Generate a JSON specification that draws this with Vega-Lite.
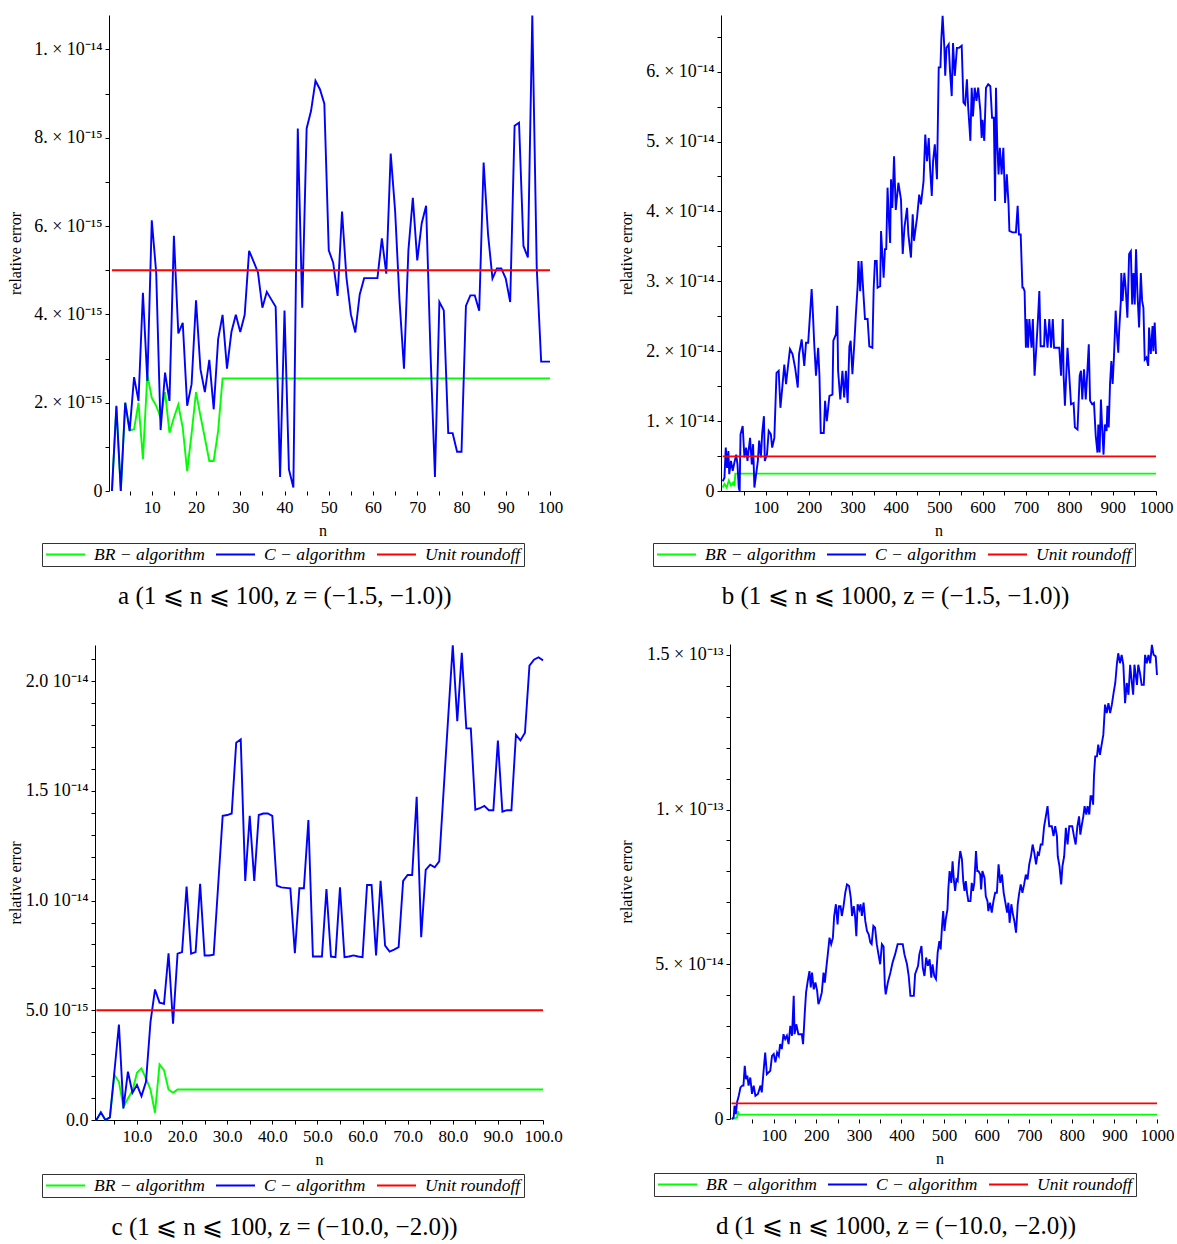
{
"$schema": "https://vega.github.io/schema/vega-lite/v6.json",
"background": "white",
"padding": {"left": 7, "top": 11, "right": 0, "bottom": 0},
"datasets": {
"a_br": [{"n":1,"v":0},{"n":2,"v":1.9e-15},{"n":3,"v":0},{"n":4,"v":2.0e-15},{"n":5,"v":1.37e-15},{"n":6,"v":1.40e-15},{"n":7,"v":2.0e-15},{"n":8,"v":0.72e-15},{"n":9,"v":2.64e-15},{"n":10,"v":2.11e-15},{"n":11,"v":1.93e-15},{"n":12,"v":1.66e-15},{"n":13,"v":2.24e-15},{"n":14,"v":1.32e-15},{"n":15,"v":1.66e-15},{"n":16,"v":1.96e-15},{"n":17,"v":1.43e-15},{"n":18,"v":0.45e-15},{"n":19,"v":1.3e-15},{"n":20,"v":2.24e-15},{"n":21,"v":1.7e-15},{"n":22,"v":1.2e-15},{"n":23,"v":0.68e-15},{"n":24,"v":0.68e-15},{"n":25,"v":1.36e-15},{"n":26,"v":2.55e-15},{"n":100,"v":2.55e-15}],
"a_c": [{"n":1,"v":0},{"n":2,"v":1.93e-15},{"n":3,"v":0},{"n":4,"v":2.0e-15},{"n":5,"v":1.36e-15},{"n":6,"v":2.58e-15},{"n":7,"v":2.04e-15},{"n":8,"v":4.49e-15},{"n":9,"v":2.49e-15},{"n":10,"v":6.13e-15},{"n":11,"v":4.95e-15},{"n":12,"v":1.38e-15},{"n":13,"v":2.68e-15},{"n":14,"v":2.04e-15},{"n":15,"v":5.78e-15},{"n":16,"v":3.57e-15},{"n":17,"v":3.81e-15},{"n":18,"v":1.93e-15},{"n":19,"v":2.42e-15},{"n":20,"v":4.32e-15},{"n":21,"v":2.76e-15},{"n":22,"v":2.24e-15},{"n":23,"v":2.97e-15},{"n":24,"v":1.85e-15},{"n":25,"v":3.44e-15},{"n":26,"v":3.99e-15},{"n":27,"v":2.77e-15},{"n":28,"v":3.6e-15},{"n":29,"v":3.99e-15},{"n":30,"v":3.6e-15},{"n":31,"v":3.99e-15},{"n":32,"v":5.44e-15},{"n":33,"v":5.2e-15},{"n":34,"v":4.95e-15},{"n":35,"v":4.15e-15},{"n":36,"v":4.51e-15},{"n":37,"v":4.34e-15},{"n":38,"v":4.17e-15},{"n":39,"v":0.32e-15},{"n":40,"v":4.09e-15},{"n":41,"v":0.49e-15},{"n":42,"v":0.08e-15},{"n":43,"v":8.21e-15},{"n":44,"v":4.15e-15},{"n":45,"v":8.21e-15},{"n":46,"v":8.61e-15},{"n":47,"v":9.29e-15},{"n":48,"v":9.1e-15},{"n":49,"v":8.77e-15},{"n":50,"v":5.45e-15},{"n":51,"v":5.17e-15},{"n":52,"v":4.42e-15},{"n":53,"v":6.33e-15},{"n":54,"v":4.83e-15},{"n":55,"v":4.0e-15},{"n":56,"v":3.59e-15},{"n":57,"v":4.45e-15},{"n":58,"v":4.82e-15},{"n":59,"v":4.82e-15},{"n":60,"v":4.82e-15},{"n":61,"v":4.82e-15},{"n":62,"v":5.72e-15},{"n":63,"v":4.92e-15},{"n":64,"v":7.64e-15},{"n":65,"v":6.34e-15},{"n":66,"v":4.3e-15},{"n":67,"v":2.77e-15},{"n":68,"v":5.45e-15},{"n":69,"v":6.64e-15},{"n":70,"v":5.22e-15},{"n":71,"v":6.06e-15},{"n":72,"v":6.46e-15},{"n":73,"v":3.1e-15},{"n":74,"v":0.32e-15},{"n":75,"v":4.28e-15},{"n":76,"v":4.09e-15},{"n":77,"v":1.31e-15},{"n":78,"v":1.31e-15},{"n":79,"v":0.89e-15},{"n":80,"v":0.89e-15},{"n":81,"v":4.19e-15},{"n":82,"v":4.43e-15},{"n":83,"v":4.43e-15},{"n":84,"v":4.08e-15},{"n":85,"v":7.44e-15},{"n":86,"v":5.81e-15},{"n":87,"v":4.81e-15},{"n":88,"v":5.04e-15},{"n":89,"v":5.04e-15},{"n":90,"v":4.81e-15},{"n":91,"v":4.28e-15},{"n":92,"v":8.27e-15},{"n":93,"v":8.34e-15},{"n":94,"v":5.55e-15},{"n":95,"v":5.29e-15},{"n":96,"v":10.77e-15},{"n":97,"v":5.06e-15},{"n":98,"v":2.93e-15},{"n":99,"v":2.93e-15},{"n":100,"v":2.93e-15}],
"a_u": [{"n":1,"v":5.0e-15},{"n":100,"v":5.0e-15}],
"b_br": [{"n":1,"v":0.5e-15},{"n":5,"v":1.0e-15},{"n":10,"v":0.5e-15},{"n":15,"v":1.5e-15},{"n":20,"v":0.8e-15},{"n":25,"v":1.2e-15},{"n":28,"v":0.7e-15},{"n":30,"v":2.48e-15},{"n":1000,"v":2.48e-15}],
"b_c": [{"n":1,"v":0.14e-14},{"n":5,"v":0.19e-14},{"n":8,"v":0.62e-14},{"n":11,"v":0.33e-14},{"n":14,"v":0.57e-14},{"n":16,"v":0.24e-14},{"n":20,"v":0.43e-14},{"n":24,"v":0.29e-14},{"n":28,"v":0.41e-14},{"n":32,"v":0.52e-14},{"n":35,"v":0.38e-14},{"n":38,"v":0.05e-14},{"n":40,"v":0},{"n":42,"v":0.81e-14},{"n":47,"v":0.93e-14},{"n":51,"v":0.48e-14},{"n":55,"v":0.62e-14},{"n":58,"v":0.43e-14},{"n":64,"v":0.76e-14},{"n":68,"v":0.38e-14},{"n":71,"v":0.67e-14},{"n":74,"v":0.05e-14},{"n":78,"v":0.24e-14},{"n":82,"v":0.43e-14},{"n":85,"v":0.72e-14},{"n":89,"v":0.48e-14},{"n":92,"v":0.83e-14},{"n":96,"v":1.07e-14},{"n":98,"v":0.43e-14},{"n":103,"v":0.52e-14},{"n":107,"v":0.86e-14},{"n":112,"v":0.81e-14},{"n":115,"v":0.62e-14},{"n":120,"v":0.76e-14},{"n":125,"v":1.69e-14},{"n":130,"v":1.72e-14},{"n":134,"v":1.19e-14},{"n":139,"v":1.53e-14},{"n":143,"v":1.81e-14},{"n":147,"v":1.53e-14},{"n":151,"v":1.76e-14},{"n":156,"v":2.03e-14},{"n":162,"v":1.96e-14},{"n":168,"v":1.76e-14},{"n":174,"v":1.48e-14},{"n":177,"v":1.96e-14},{"n":183,"v":2.17e-14},{"n":189,"v":1.79e-14},{"n":193,"v":2.12e-14},{"n":198,"v":2.12e-14},{"n":202,"v":2.5e-14},{"n":206,"v":2.89e-14},{"n":209,"v":2.53e-14},{"n":212,"v":2.1e-14},{"n":216,"v":1.65e-14},{"n":221,"v":2.05e-14},{"n":224,"v":1.65e-14},{"n":227,"v":0.83e-14},{"n":234,"v":0.83e-14},{"n":237,"v":1.29e-14},{"n":241,"v":1.0e-14},{"n":247,"v":1.36e-14},{"n":254,"v":1.38e-14},{"n":256,"v":2.15e-14},{"n":262,"v":2.24e-14},{"n":265,"v":2.65e-14},{"n":267,"v":1.72e-14},{"n":272,"v":1.31e-14},{"n":277,"v":1.72e-14},{"n":281,"v":1.34e-14},{"n":285,"v":1.72e-14},{"n":289,"v":1.26e-14},{"n":293,"v":2.07e-14},{"n":296,"v":2.15e-14},{"n":300,"v":1.67e-14},{"n":304,"v":2.07e-14},{"n":308,"v":2.53e-14},{"n":312,"v":2.93e-14},{"n":314,"v":3.29e-14},{"n":318,"v":2.86e-14},{"n":321,"v":3.29e-14},{"n":325,"v":2.86e-14},{"n":329,"v":2.46e-14},{"n":335,"v":2.46e-14},{"n":339,"v":2.07e-14},{"n":346,"v":2.05e-14},{"n":349,"v":2.89e-14},{"n":352,"v":3.29e-14},{"n":356,"v":3.29e-14},{"n":358,"v":2.91e-14},{"n":364,"v":2.93e-14},{"n":366,"v":3.72e-14},{"n":369,"v":3.39e-14},{"n":372,"v":3.05e-14},{"n":375,"v":3.46e-14},{"n":378,"v":3.46e-14},{"n":381,"v":4.34e-14},{"n":385,"v":3.77e-14},{"n":387,"v":3.55e-14},{"n":389,"v":4.46e-14},{"n":392,"v":4.05e-14},{"n":396,"v":4.79e-14},{"n":400,"v":4.02e-14},{"n":406,"v":4.41e-14},{"n":412,"v":4.17e-14},{"n":416,"v":3.39e-14},{"n":420,"v":3.77e-14},{"n":426,"v":4.05e-14},{"n":429,"v":3.67e-14},{"n":435,"v":3.34e-14},{"n":439,"v":3.96e-14},{"n":442,"v":3.58e-14},{"n":449,"v":3.91e-14},{"n":454,"v":4.24e-14},{"n":458,"v":4.1e-14},{"n":464,"v":4.43e-14},{"n":468,"v":5.1e-14},{"n":472,"v":4.72e-14},{"n":476,"v":5.05e-14},{"n":479,"v":4.63e-14},{"n":483,"v":4.22e-14},{"n":486,"v":4.72e-14},{"n":490,"v":4.96e-14},{"n":495,"v":4.46e-14},{"n":499,"v":6.06e-14},{"n":503,"v":6.06e-14},{"n":505,"v":6.46e-14},{"n":508,"v":6.8e-14},{"n":512,"v":6.34e-14},{"n":514,"v":5.94e-14},{"n":517,"v":6.34e-14},{"n":522,"v":6.39e-14},{"n":525,"v":6.01e-14},{"n":529,"v":5.65e-14},{"n":532,"v":6.41e-14},{"n":536,"v":5.94e-14},{"n":541,"v":6.34e-14},{"n":546,"v":6.34e-14},{"n":552,"v":6.37e-14},{"n":556,"v":5.56e-14},{"n":560,"v":5.53e-14},{"n":564,"v":5.89e-14},{"n":567,"v":5.48e-14},{"n":570,"v":5.2e-14},{"n":572,"v":5.01e-14},{"n":575,"v":5.77e-14},{"n":578,"v":5.36e-14},{"n":582,"v":5.77e-14},{"n":586,"v":5.58e-14},{"n":590,"v":5.77e-14},{"n":595,"v":5.44e-14},{"n":598,"v":5.05e-14},{"n":600,"v":5.31e-14},{"n":604,"v":5.01e-14},{"n":608,"v":5.77e-14},{"n":613,"v":5.82e-14},{"n":618,"v":5.79e-14},{"n":622,"v":5.34e-14},{"n":626,"v":5.34e-14},{"n":629,"v":4.15e-14},{"n":631,"v":5.77e-14},{"n":634,"v":4.96e-14},{"n":637,"v":4.53e-14},{"n":640,"v":4.91e-14},{"n":644,"v":4.53e-14},{"n":648,"v":4.91e-14},{"n":652,"v":4.12e-14},{"n":656,"v":4.53e-14},{"n":660,"v":4.1e-14},{"n":662,"v":3.72e-14},{"n":669,"v":3.7e-14},{"n":677,"v":3.7e-14},{"n":681,"v":4.08e-14},{"n":684,"v":3.67e-14},{"n":688,"v":3.67e-14},{"n":692,"v":2.91e-14},{"n":694,"v":2.91e-14},{"n":697,"v":2.86e-14},{"n":700,"v":2.05e-14},{"n":702,"v":2.46e-14},{"n":705,"v":2.05e-14},{"n":708,"v":2.46e-14},{"n":713,"v":2.05e-14},{"n":716,"v":2.46e-14},{"n":720,"v":1.65e-14},{"n":724,"v":2.05e-14},{"n":728,"v":2.48e-14},{"n":731,"v":2.86e-14},{"n":734,"v":2.07e-14},{"n":742,"v":2.07e-14},{"n":744,"v":2.46e-14},{"n":750,"v":2.05e-14},{"n":754,"v":2.46e-14},{"n":758,"v":2.05e-14},{"n":762,"v":2.46e-14},{"n":765,"v":2.05e-14},{"n":777,"v":2.05e-14},{"n":781,"v":1.65e-14},{"n":785,"v":2.46e-14},{"n":787,"v":1.65e-14},{"n":790,"v":1.22e-14},{"n":793,"v":1.65e-14},{"n":796,"v":2.05e-14},{"n":800,"v":1.65e-14},{"n":804,"v":1.24e-14},{"n":810,"v":1.26e-14},{"n":813,"v":0.91e-14},{"n":819,"v":0.88e-14},{"n":824,"v":1.65e-14},{"n":827,"v":1.72e-14},{"n":830,"v":1.31e-14},{"n":834,"v":1.74e-14},{"n":838,"v":1.31e-14},{"n":842,"v":1.74e-14},{"n":845,"v":2.1e-14},{"n":848,"v":1.29e-14},{"n":853,"v":1.24e-14},{"n":857,"v":1.26e-14},{"n":861,"v":0.79e-14},{"n":865,"v":0.55e-14},{"n":867,"v":0.95e-14},{"n":870,"v":0.55e-14},{"n":873,"v":1.31e-14},{"n":876,"v":0.88e-14},{"n":879,"v":0.52e-14},{"n":882,"v":0.95e-14},{"n":886,"v":0.86e-14},{"n":888,"v":1.22e-14},{"n":891,"v":0.91e-14},{"n":894,"v":1.53e-14},{"n":897,"v":1.86e-14},{"n":900,"v":1.53e-14},{"n":903,"v":1.91e-14},{"n":907,"v":2.58e-14},{"n":910,"v":2.24e-14},{"n":913,"v":1.98e-14},{"n":915,"v":2.29e-14},{"n":919,"v":2.72e-14},{"n":920,"v":3.12e-14},{"n":923,"v":2.72e-14},{"n":927,"v":3.12e-14},{"n":930,"v":2.91e-14},{"n":934,"v":2.48e-14},{"n":938,"v":3.39e-14},{"n":942,"v":3.43e-14},{"n":945,"v":2.67e-14},{"n":948,"v":3.12e-14},{"n":951,"v":2.67e-14},{"n":954,"v":3.46e-14},{"n":957,"v":2.86e-14},{"n":961,"v":2.34e-14},{"n":965,"v":3.12e-14},{"n":968,"v":2.72e-14},{"n":971,"v":2.62e-14},{"n":974,"v":1.88e-14},{"n":978,"v":1.91e-14},{"n":982,"v":1.79e-14},{"n":984,"v":2.34e-14},{"n":988,"v":1.96e-14},{"n":992,"v":2.36e-14},{"n":994,"v":2.0e-14},{"n":997,"v":2.41e-14},{"n":1000,"v":1.96e-14}],
"b_u": [{"n":1,"v":4.96e-15},{"n":1000,"v":4.96e-15}],
"c_br": [{"n":1,"v":0},{"n":2,"v":0.35e-15},{"n":3,"v":0},{"n":4,"v":0.12e-15},{"n":5,"v":2.05e-15},{"n":6,"v":1.74e-15},{"n":7,"v":0.6e-15},{"n":8,"v":0.98e-15},{"n":9,"v":1.33e-15},{"n":10,"v":2.15e-15},{"n":11,"v":2.35e-15},{"n":12,"v":1.89e-15},{"n":13,"v":1.39e-15},{"n":14,"v":0.33e-15},{"n":15,"v":2.53e-15},{"n":16,"v":2.27e-15},{"n":17,"v":1.39e-15},{"n":18,"v":1.24e-15},{"n":19,"v":1.39e-15},{"n":100,"v":1.39e-15}],
"c_c": [{"n":1,"v":0},{"n":2,"v":0.35e-15},{"n":3,"v":0},{"n":4,"v":0.12e-15},{"n":5,"v":2.2e-15},{"n":6,"v":4.35e-15},{"n":7,"v":0.53e-15},{"n":8,"v":2.2e-15},{"n":9,"v":1.24e-15},{"n":10,"v":1.6e-15},{"n":11,"v":1.09e-15},{"n":12,"v":1.74e-15},{"n":13,"v":4.47e-15},{"n":14,"v":5.95e-15},{"n":15,"v":5.35e-15},{"n":16,"v":5.3e-15},{"n":17,"v":7.6e-15},{"n":18,"v":4.39e-15},{"n":19,"v":7.58e-15},{"n":20,"v":7.65e-15},{"n":21,"v":10.64e-15},{"n":22,"v":7.58e-15},{"n":23,"v":7.65e-15},{"n":24,"v":10.76e-15},{"n":25,"v":7.5e-15},{"n":26,"v":7.5e-15},{"n":27,"v":7.53e-15},{"n":28,"v":10.7e-15},{"n":29,"v":13.86e-15},{"n":30,"v":13.9e-15},{"n":31,"v":13.97e-15},{"n":32,"v":17.2e-15},{"n":33,"v":17.35e-15},{"n":34,"v":10.9e-15},{"n":35,"v":13.86e-15},{"n":36,"v":10.9e-15},{"n":37,"v":13.9e-15},{"n":38,"v":13.97e-15},{"n":39,"v":13.97e-15},{"n":40,"v":13.86e-15},{"n":41,"v":10.68e-15},{"n":42,"v":10.6e-15},{"n":43,"v":10.58e-15},{"n":44,"v":10.56e-15},{"n":45,"v":7.6e-15},{"n":46,"v":10.56e-15},{"n":47,"v":10.56e-15},{"n":48,"v":13.67e-15},{"n":49,"v":7.45e-15},{"n":50,"v":7.45e-15},{"n":51,"v":7.45e-15},{"n":52,"v":10.53e-15},{"n":53,"v":7.45e-15},{"n":54,"v":7.42e-15},{"n":55,"v":10.6e-15},{"n":56,"v":7.42e-15},{"n":57,"v":7.45e-15},{"n":58,"v":7.5e-15},{"n":59,"v":7.45e-15},{"n":60,"v":7.42e-15},{"n":61,"v":10.71e-15},{"n":62,"v":10.71e-15},{"n":63,"v":7.5e-15},{"n":64,"v":10.9e-15},{"n":65,"v":7.95e-15},{"n":66,"v":7.68e-15},{"n":67,"v":7.77e-15},{"n":68,"v":7.88e-15},{"n":69,"v":10.9e-15},{"n":70,"v":11.17e-15},{"n":71,"v":11.17e-15},{"n":72,"v":14.73e-15},{"n":73,"v":8.33e-15},{"n":74,"v":11.4e-15},{"n":75,"v":11.64e-15},{"n":76,"v":11.52e-15},{"n":77,"v":11.79e-15},{"n":78,"v":15.1e-15},{"n":79,"v":18.4e-15},{"n":80,"v":21.64e-15},{"n":81,"v":18.18e-15},{"n":82,"v":21.29e-15},{"n":83,"v":17.85e-15},{"n":84,"v":17.85e-15},{"n":85,"v":14.14e-15},{"n":86,"v":14.21e-15},{"n":87,"v":14.32e-15},{"n":88,"v":14.12e-15},{"n":89,"v":14.12e-15},{"n":90,"v":17.3e-15},{"n":91,"v":14.05e-15},{"n":92,"v":14.12e-15},{"n":93,"v":14.12e-15},{"n":94,"v":17.55e-15},{"n":95,"v":17.3e-15},{"n":96,"v":17.65e-15},{"n":97,"v":20.71e-15},{"n":98,"v":20.98e-15},{"n":99,"v":21.09e-15},{"n":100,"v":20.95e-15}],
"c_u": [{"n":1,"v":5.0e-15},{"n":100,"v":5.0e-15}],
"d_br": [{"n":1,"v":0},{"n":10,"v":0.2e-15},{"n":14,"v":0.5e-15},{"n":16,"v":2.5e-15},{"n":18,"v":1.4e-15},{"n":1000,"v":1.4e-15}],
"d_c": [{"n":2,"v":0},{"n":6,"v":0.05e-14},{"n":8,"v":0.43e-14},{"n":11,"v":0.16e-14},{"n":14,"v":0.54e-14},{"n":18,"v":0.75e-14},{"n":22,"v":1.02e-14},{"n":26,"v":1.08e-14},{"n":29,"v":1.08e-14},{"n":32,"v":1.72e-14},{"n":35,"v":1.29e-14},{"n":38,"v":1.4e-14},{"n":41,"v":1.08e-14},{"n":45,"v":1.34e-14},{"n":49,"v":0.81e-14},{"n":53,"v":1.08e-14},{"n":57,"v":0.75e-14},{"n":63,"v":0.81e-14},{"n":69,"v":1.08e-14},{"n":72,"v":0.86e-14},{"n":76,"v":1.51e-14},{"n":80,"v":2.15e-14},{"n":84,"v":1.45e-14},{"n":92,"v":1.56e-14},{"n":96,"v":2.04e-14},{"n":100,"v":2.1e-14},{"n":104,"v":1.83e-14},{"n":108,"v":2.15e-14},{"n":112,"v":2.04e-14},{"n":115,"v":2.42e-14},{"n":119,"v":2.26e-14},{"n":123,"v":2.74e-14},{"n":127,"v":2.58e-14},{"n":131,"v":2.69e-14},{"n":135,"v":2.42e-14},{"n":139,"v":3.01e-14},{"n":143,"v":2.69e-14},{"n":147,"v":3.98e-14},{"n":149,"v":2.74e-14},{"n":153,"v":3.06e-14},{"n":158,"v":2.74e-14},{"n":166,"v":2.74e-14},{"n":169,"v":2.42e-14},{"n":173,"v":3.44e-14},{"n":176,"v":4.09e-14},{"n":180,"v":4.46e-14},{"n":184,"v":4.78e-14},{"n":187,"v":4.25e-14},{"n":190,"v":4.73e-14},{"n":194,"v":4.19e-14},{"n":198,"v":4.41e-14},{"n":202,"v":4.14e-14},{"n":205,"v":3.71e-14},{"n":209,"v":3.87e-14},{"n":213,"v":4.09e-14},{"n":217,"v":4.73e-14},{"n":220,"v":4.41e-14},{"n":224,"v":4.95e-14},{"n":227,"v":5.32e-14},{"n":231,"v":5.86e-14},{"n":235,"v":5.65e-14},{"n":239,"v":5.86e-14},{"n":242,"v":6.56e-14},{"n":246,"v":6.94e-14},{"n":250,"v":6.29e-14},{"n":253,"v":6.88e-14},{"n":257,"v":6.88e-14},{"n":260,"v":6.56e-14},{"n":264,"v":6.88e-14},{"n":268,"v":7.31e-14},{"n":272,"v":7.58e-14},{"n":277,"v":7.53e-14},{"n":281,"v":7.15e-14},{"n":284,"v":6.56e-14},{"n":288,"v":6.88e-14},{"n":291,"v":6.56e-14},{"n":294,"v":5.91e-14},{"n":297,"v":6.94e-14},{"n":301,"v":6.77e-14},{"n":304,"v":6.94e-14},{"n":307,"v":6.56e-14},{"n":311,"v":6.99e-14},{"n":315,"v":6.4e-14},{"n":319,"v":6.08e-14},{"n":323,"v":5.97e-14},{"n":327,"v":5.7e-14},{"n":330,"v":5.65e-14},{"n":334,"v":6.24e-14},{"n":338,"v":6.18e-14},{"n":342,"v":5.65e-14},{"n":346,"v":5.32e-14},{"n":350,"v":5.0e-14},{"n":354,"v":5.65e-14},{"n":358,"v":5.57e-14},{"n":361,"v":4.3e-14},{"n":363,"v":4.03e-14},{"n":368,"v":4.41e-14},{"n":374,"v":4.73e-14},{"n":379,"v":5.05e-14},{"n":385,"v":5.32e-14},{"n":391,"v":5.65e-14},{"n":397,"v":5.65e-14},{"n":403,"v":5.65e-14},{"n":407,"v":5.32e-14},{"n":413,"v":5.0e-14},{"n":417,"v":4.62e-14},{"n":421,"v":3.98e-14},{"n":429,"v":3.98e-14},{"n":432,"v":4.68e-14},{"n":439,"v":4.95e-14},{"n":442,"v":5.32e-14},{"n":447,"v":5.59e-14},{"n":450,"v":4.89e-14},{"n":454,"v":4.62e-14},{"n":458,"v":5.22e-14},{"n":462,"v":4.95e-14},{"n":466,"v":5.16e-14},{"n":470,"v":4.57e-14},{"n":473,"v":5.0e-14},{"n":477,"v":4.62e-14},{"n":481,"v":4.52e-14},{"n":485,"v":5.38e-14},{"n":489,"v":5.75e-14},{"n":492,"v":5.48e-14},{"n":495,"v":6.18e-14},{"n":498,"v":6.72e-14},{"n":501,"v":6.08e-14},{"n":504,"v":6.45e-14},{"n":508,"v":6.77e-14},{"n":510,"v":7.42e-14},{"n":513,"v":8.01e-14},{"n":517,"v":7.63e-14},{"n":520,"v":8.33e-14},{"n":523,"v":7.74e-14},{"n":526,"v":7.37e-14},{"n":529,"v":7.74e-14},{"n":532,"v":7.69e-14},{"n":535,"v":8.28e-14},{"n":538,"v":8.66e-14},{"n":542,"v":8.39e-14},{"n":545,"v":7.69e-14},{"n":548,"v":7.37e-14},{"n":551,"v":7.69e-14},{"n":554,"v":7.31e-14},{"n":557,"v":7.04e-14},{"n":562,"v":7.04e-14},{"n":565,"v":7.63e-14},{"n":568,"v":7.37e-14},{"n":571,"v":7.63e-14},{"n":575,"v":8.66e-14},{"n":578,"v":8.01e-14},{"n":581,"v":8.01e-14},{"n":585,"v":7.9e-14},{"n":587,"v":7.42e-14},{"n":590,"v":8.01e-14},{"n":595,"v":7.8e-14},{"n":598,"v":7.2e-14},{"n":602,"v":7.04e-14},{"n":604,"v":6.72e-14},{"n":608,"v":6.99e-14},{"n":612,"v":6.67e-14},{"n":616,"v":7.04e-14},{"n":620,"v":7.31e-14},{"n":624,"v":7.31e-14},{"n":628,"v":8.23e-14},{"n":632,"v":7.63e-14},{"n":636,"v":7.9e-14},{"n":640,"v":7.31e-14},{"n":644,"v":6.99e-14},{"n":648,"v":6.67e-14},{"n":651,"v":6.99e-14},{"n":654,"v":6.34e-14},{"n":658,"v":6.94e-14},{"n":661,"v":6.67e-14},{"n":665,"v":6.4e-14},{"n":669,"v":6.02e-14},{"n":673,"v":6.94e-14},{"n":676,"v":7.26e-14},{"n":680,"v":7.58e-14},{"n":684,"v":7.31e-14},{"n":688,"v":7.58e-14},{"n":692,"v":7.9e-14},{"n":696,"v":7.74e-14},{"n":700,"v":8.23e-14},{"n":704,"v":8.49e-14},{"n":708,"v":8.87e-14},{"n":712,"v":8.6e-14},{"n":716,"v":8.23e-14},{"n":720,"v":8.6e-14},{"n":723,"v":8.55e-14},{"n":727,"v":8.87e-14},{"n":731,"v":8.87e-14},{"n":735,"v":9.46e-14},{"n":739,"v":9.78e-14},{"n":743,"v":10.11e-14},{"n":747,"v":9.46e-14},{"n":753,"v":9.46e-14},{"n":757,"v":9.14e-14},{"n":761,"v":9.46e-14},{"n":765,"v":9.14e-14},{"n":767,"v":8.49e-14},{"n":771,"v":8.17e-14},{"n":775,"v":7.58e-14},{"n":778,"v":8.17e-14},{"n":782,"v":8.49e-14},{"n":786,"v":9.41e-14},{"n":790,"v":8.87e-14},{"n":794,"v":9.46e-14},{"n":801,"v":9.46e-14},{"n":805,"v":9.14e-14},{"n":809,"v":8.87e-14},{"n":813,"v":9.46e-14},{"n":817,"v":9.78e-14},{"n":820,"v":9.19e-14},{"n":823,"v":9.46e-14},{"n":827,"v":9.78e-14},{"n":830,"v":10.11e-14},{"n":834,"v":9.84e-14},{"n":837,"v":10.11e-14},{"n":841,"v":9.84e-14},{"n":844,"v":10.43e-14},{"n":847,"v":10.43e-14},{"n":850,"v":10.16e-14},{"n":852,"v":11.08e-14},{"n":855,"v":11.72e-14},{"n":859,"v":11.72e-14},{"n":862,"v":12.1e-14},{"n":866,"v":11.77e-14},{"n":870,"v":12.1e-14},{"n":874,"v":12.42e-14},{"n":878,"v":13.39e-14},{"n":882,"v":13.12e-14},{"n":886,"v":13.44e-14},{"n":890,"v":13.12e-14},{"n":894,"v":13.39e-14},{"n":898,"v":13.76e-14},{"n":902,"v":14.09e-14},{"n":906,"v":14.73e-14},{"n":909,"v":15.05e-14},{"n":913,"v":14.73e-14},{"n":917,"v":15.0e-14},{"n":921,"v":14.68e-14},{"n":925,"v":13.44e-14},{"n":929,"v":14.09e-14},{"n":933,"v":13.71e-14},{"n":937,"v":14.68e-14},{"n":941,"v":14.09e-14},{"n":944,"v":13.71e-14},{"n":947,"v":14.68e-14},{"n":950,"v":14.35e-14},{"n":953,"v":14.03e-14},{"n":956,"v":14.68e-14},{"n":960,"v":14.41e-14},{"n":964,"v":14.03e-14},{"n":969,"v":14.03e-14},{"n":972,"v":15.0e-14},{"n":976,"v":14.73e-14},{"n":980,"v":15.0e-14},{"n":984,"v":14.73e-14},{"n":988,"v":15.32e-14},{"n":992,"v":15.0e-14},{"n":997,"v":14.95e-14},{"n":1000,"v":14.35e-14}],
"d_u": [{"n":1,"v":5.05e-15},{"n":1000,"v":5.05e-15}]
},
"columns": 2,
"align": "none",
"spacing": {"row": 32, "column": 55},
"resolve": {"scale": {"color": "independent"}, "legend": {"color": "independent"}},
"concat": [
{
"width": 455, "height": 476,
"title": {"text": "a (1 ⩽ n ⩽ 100, z = (−1.5, −1.0))"},
"encoding": {
"x": {"field": "n", "type": "quantitative", "scale": {"domain": [-2.83, 100], "nice": false, "zero": false},
"axis": {"title": "n", "domain": false, "values": [5,10,15,20,25,30,35,40,45,50,55,60,65,70,75,80,85,90,95,100], "labelExpr": "datum.value % 10 == 0 ? datum.label : ''"}},
"y": {"field": "v", "type": "quantitative", "scale": {"domain": [0, 1.078e-14], "nice": false},
"axis": {"title": "relative error", "offset": -14, "minExtent": 82, "maxExtent": 82, "values": [0,1e-15,2e-15,3e-15,4e-15,5e-15,6e-15,7e-15,8e-15,9e-15,1e-14],
"labelExpr": "round(datum.value*1e15) == 0 ? '0' : round(datum.value*1e15) == 10 ? '1. × 10⁻¹⁴' : round(datum.value*1e15) % 2 == 0 ? round(datum.value*1e15) + '. × 10⁻¹⁵' : ''"}}
},
"layer": [
{"data": {"values": [{}]}, "mark": {"type": "rule", "color": "#000", "strokeWidth": 1}, "encoding": {"x": {"datum": 0.5}, "x2": {"datum": 100}, "y": {"datum": 0}}},
{"data": {"name": "a_br"}, "mark": {"type": "line"}, "encoding": {"color": {"datum": "BR − algorithm", "scale": {"domain": ["BR − algorithm", "C − algorithm", "Unit roundoff"], "range": ["#00ff00", "#0000ff", "#ff0000"]}, "legend": {"title": null, "legendX": -53, "legendY": 528}}}},
{"data": {"name": "a_c"}, "mark": {"type": "line"}, "encoding": {"color": {"datum": "C − algorithm"}}},
{"data": {"name": "a_u"}, "mark": {"type": "line"}, "encoding": {"color": {"datum": "Unit roundoff"}}}
]
},
{
"width": 435, "height": 476,
"title": {"text": "b (1 ⩽ n ⩽ 1000, z = (−1.5, −1.0))"},
"encoding": {
"x": {"field": "n", "type": "quantitative", "scale": {"domain": [-3, 1000], "nice": false, "zero": false},
"axis": {"title": "n", "format": "d", "values": [50,100,150,200,250,300,350,400,450,500,550,600,650,700,750,800,850,900,950,1000], "labelExpr": "datum.value % 100 == 0 ? datum.label : ''"}},
"y": {"field": "v", "type": "quantitative", "scale": {"domain": [0, 6.81e-14], "nice": false},
"axis": {"title": "relative error", "minExtent": 83, "maxExtent": 83, "values": [0,5e-15,1e-14,1.5e-14,2e-14,2.5e-14,3e-14,3.5e-14,4e-14,4.5e-14,5e-14,5.5e-14,6e-14,6.5e-14],
"labelExpr": "round(datum.value*1e15) == 0 ? '0' : round(datum.value*1e15) % 10 == 0 ? round(datum.value*1e14) + '. × 10⁻¹⁴' : ''"}}
},
"layer": [
{"data": {"name": "b_br"}, "mark": {"type": "line"}, "encoding": {"color": {"datum": "BR − algorithm", "scale": {"domain": ["BR − algorithm", "C − algorithm", "Unit roundoff"], "range": ["#00ff00", "#0000ff", "#ff0000"]}, "legend": {"title": null, "legendX": -68, "legendY": 528}}}},
{"data": {"name": "b_c"}, "mark": {"type": "line"}, "encoding": {"color": {"datum": "C − algorithm"}}},
{"data": {"name": "b_u"}, "mark": {"type": "line"}, "encoding": {"color": {"datum": "Unit roundoff"}}}
]
},
{
"width": 448, "height": 475,
"title": {"text": "c (1 ⩽ n ⩽ 100, z = (−10.0, −2.0))"},
"encoding": {
"x": {"field": "n", "type": "quantitative", "scale": {"domain": [0.7, 100], "nice": false, "zero": false},
"axis": {"title": "n", "values": [5,10,15,20,25,30,35,40,45,50,55,60,65,70,75,80,85,90,95,100], "labelExpr": "datum.value % 10 == 0 ? format(datum.value, '.1f') : ''"}},
"y": {"field": "v", "type": "quantitative", "scale": {"domain": [0, 2.165e-14], "nice": false},
"axis": {"title": "relative error", "minExtent": 68, "maxExtent": 68, "values": [0,1e-15,2e-15,3e-15,4e-15,5e-15,6e-15,7e-15,8e-15,9e-15,1e-14,1.1e-14,1.2e-14,1.3e-14,1.4e-14,1.5e-14,1.6e-14,1.7e-14,1.8e-14,1.9e-14,2e-14,2.1e-14],
"labelExpr": "round(datum.value*1e15) == 0 ? '0.0' : round(datum.value*1e15) == 5 ? '5.0 10⁻¹⁵' : round(datum.value*1e15) % 5 == 0 ? format(datum.value*1e14, '.1f') + ' 10⁻¹⁴' : ''"}}
},
"layer": [
{"data": {"name": "c_br"}, "mark": {"type": "line"}, "encoding": {"color": {"datum": "BR − algorithm", "scale": {"domain": ["BR − algorithm", "C − algorithm", "Unit roundoff"], "range": ["#00ff00", "#0000ff", "#ff0000"]}, "legend": {"title": null, "legendX": -53, "legendY": 529}}}},
{"data": {"name": "c_c"}, "mark": {"type": "line"}, "encoding": {"color": {"datum": "C − algorithm"}}},
{"data": {"name": "c_u"}, "mark": {"type": "line"}, "encoding": {"color": {"datum": "Unit roundoff"}}}
]
},
{
"width": 435, "height": 475,
"title": {"text": "d (1 ⩽ n ⩽ 1000, z = (−10.0, −2.0))"},
"encoding": {
"x": {"field": "n", "type": "quantitative", "scale": {"domain": [-21.4, 1000], "nice": false, "zero": false},
"axis": {"title": "n", "domain": false, "format": "d", "values": [50,100,150,200,250,300,350,400,450,500,550,600,650,700,750,800,850,900,950,1000], "labelExpr": "datum.value % 100 == 0 ? datum.label : ''"}},
"y": {"field": "v", "type": "quantitative", "scale": {"domain": [0, 1.535e-13], "nice": false},
"axis": {"title": "relative error", "offset": -8, "minExtent": 92, "maxExtent": 92, "values": [0,1e-14,2e-14,3e-14,4e-14,5e-14,6e-14,7e-14,8e-14,9e-14,1e-13,1.1e-13,1.2e-13,1.3e-13,1.4e-13,1.5e-13],
"labelExpr": "round(datum.value*1e14) == 0 ? '0' : round(datum.value*1e14) == 5 ? '5. × 10⁻¹⁴' : round(datum.value*1e14) == 10 ? '1. × 10⁻¹³' : round(datum.value*1e14) == 15 ? '1.5 × 10⁻¹³' : ''"}}
},
"layer": [
{"data": {"values": [{}]}, "mark": {"type": "rule", "color": "#000", "strokeWidth": 1}, "encoding": {"x": {"datum": -2}, "x2": {"datum": 1000}, "y": {"datum": 0}}},
{"data": {"name": "d_br"}, "mark": {"type": "line"}, "encoding": {"color": {"datum": "BR − algorithm", "scale": {"domain": ["BR − algorithm", "C − algorithm", "Unit roundoff"], "range": ["#00ff00", "#0000ff", "#ff0000"]}, "legend": {"title": null, "legendX": -68, "legendY": 529}}}},
{"data": {"name": "d_c"}, "mark": {"type": "line"}, "encoding": {"color": {"datum": "C − algorithm"}}},
{"data": {"name": "d_u"}, "mark": {"type": "line"}, "encoding": {"color": {"datum": "Unit roundoff"}}}
]
}
],
"config": {
"view": {"stroke": null},
"line": {"strokeWidth": 1.9},
"axis": {"grid": false, "domainColor": "#000", "tickColor": "#000", "tickSize": 4, "labelColor": "#000", "labelFont": "Liberation Serif", "labelFontSize": 17, "labelPadding": 3, "labelFlush": false, "labelOverlap": false, "titleColor": "#000", "titleFont": "Liberation Serif", "titleFontSize": 16, "titleFontWeight": "normal", "titlePadding": 4},
"axisX": {"labelPadding": 4, "titlePadding": 7},
"axisY": {"labelFontSize": 18},
"legend": {"orient": "none", "direction": "horizontal", "symbolType": "stroke", "symbolSize": 1521, "symbolStrokeWidth": 2, "clipHeight": 17, "labelFont": "Liberation Serif", "labelFontStyle": "italic", "labelFontSize": 17.5, "labelColor": "#000", "labelOffset": 8, "columnPadding": 10, "padding": 3, "strokeColor": "#333", "fillColor": "#fff"},
"title": {"orient": "bottom", "frame": "bounds", "font": "Liberation Serif", "fontSize": 25, "fontWeight": "normal", "color": "#000", "offset": 17, "anchor": "middle"}
}
}
